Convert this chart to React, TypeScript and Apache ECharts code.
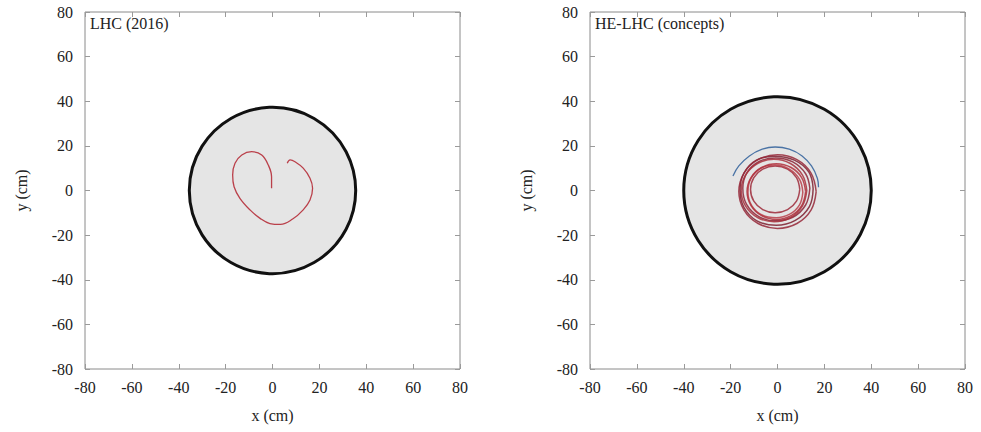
import React, { useEffect, useRef } from "react";
import * as echarts from "echarts";

const axisTicks = [-80, -60, -40, -20, 0, 20, 40, 60, 80];
const panelTitles = ["LHC (2016)", "HE-LHC (concepts)"];
// [centerX, centerY, radius] of the aperture disc (cm)
const discLHC = [[0, 0, 35.5]];
const discHE = [[0, 0, 40]];

// LHC trajectory (cm)
const lhcTrack = [
  [-0.4, 1.0], [-0.4, 6.2], [-1.8, 11.4], [-4.6, 15.9], [-8.9, 17.4], [-13.1, 15.9],
  [-16, 12.2], [-17, 6.9], [-16.4, 1.7], [-13.9, -3.5], [-9.6, -8.7], [-5.3, -12.5],
  [-1.1, -14.8], [3.4, -15.2], [8.6, -12.8], [13.1, -8.7], [16, -4.3], [17.1, 1],
  [16, 5.5], [13.1, 10], [9.6, 12.9], [7.5, 13.7], [6.3, 12.2],
];

// HE-LHC trajectories (cm)
const heLoopA = [
  [9.5, 0.5], [8.1, 5.8], [4.3, 9.6], [-1, 11], [-6.3, 9.6], [-10.1, 5.8], [-11.5, 0.5],
  [-10.1, -4.8], [-6.3, -8.6], [-1, -10], [4.3, -8.6], [8.1, -4.8], [9.5, 0.5],
];
const heLoopB = [
  [12, -0.5], [10.3, 5.8], [5.8, 10.3], [-0.5, 12], [-6.8, 10.3], [-11.3, 5.8], [-13, -0.5],
  [-11.3, -6.8], [-6.8, -11.3], [-0.5, -13], [5.8, -11.3], [10.3, -6.8], [12, -0.5],
];
const heLoopC = [
  [12.5, 0], [10.6, 7], [5.5, 12.1], [-1.5, 14], [-8.5, 12.1], [-13.6, 7], [-15.5, 0],
  [-13.6, -7], [-8.5, -12.1], [-1.5, -14], [5.5, -12.1], [10.6, -7], [12.5, 0],
];
const heLoopD = [
  [16.5, -0.5], [14.3, 7.8], [8.3, 13.8], [0, 16], [-8.3, 13.8], [-14.3, 7.8], [-16.5, -0.5],
  [-14.3, -8.8], [-8.3, -14.8], [0, -17], [8.3, -14.8], [14.3, -8.8], [16.5, -0.5],
];
const heLoopE = [
  [13.8, 1], [12, 7.5], [6.5, 12.8], [-0.8, 14.6], [-7.8, 13], [-13, 8], [-14.8, 1],
  [-13.2, -6.2], [-7.8, -11.8], [-0.8, -13.6], [6.5, -12], [12, -6.5], [13.8, 1],
];
const heLoopF = [
  [10.8, -0.8], [9.4, 5], [5, 9.6], [-1.2, 11.4], [-7, 10], [-11.4, 5.2], [-12.6, -0.8],
  [-11, -6.8], [-6.6, -11], [-0.6, -12.2], [5.2, -10.6], [9.4, -6.4], [10.8, -0.8],
];
const heLoopG = [
  [15.2, 0.8], [13.4, 8.2], [7.2, 13.6], [-1.4, 15.4], [-9, 13.6], [-14.2, 8], [-16, 0.4],
  [-14.4, -7.4], [-8.8, -13.6], [-0.6, -15.6], [7.6, -13.4], [13.6, -7.2], [15.2, 0.8],
];
const heBlueArc = [
  [-19, 6.5], [-16.5, 11], [-12, 15.5], [-6.5, 18.5], [-1, 19.5], [5, 18.5], [10.5, 15.5],
  [14.5, 11], [17, 5.5], [17.5, 1.5],
];

const FONT = "'Liberation Serif', 'DejaVu Serif', serif";

function makeAxes(gridIndex: number) {
  const common = {
    gridIndex,
    min: -80,
    max: 80,
    interval: 20,
    splitLine: { show: false },
    axisLine: { show: false, onZero: false },
    axisTick: { show: true, inside: true, length: 5, lineStyle: { color: "#9a9a9a" } },
  };
  const xAxes = [
    {
      ...common,
      type: "value",
      position: "bottom",
      name: "x (cm)",
      nameLocation: "middle",
      nameGap: 38,
      nameTextStyle: { fontFamily: FONT, fontSize: 16, color: "#222" },
      axisLabel: {
        fontFamily: FONT,
        fontSize: 16,
        color: "#222",
        margin: 10,
        formatter: (v: number) => (axisTicks.includes(v) ? String(v) : ""),
      },
    },
    { ...common, type: "value", position: "top", axisLabel: { show: false } },
  ];
  const yAxes = [
    {
      ...common,
      type: "value",
      position: "left",
      name: "y (cm)",
      nameLocation: "middle",
      nameGap: 56,
      nameTextStyle: { fontFamily: FONT, fontSize: 16, color: "#222" },
      axisLabel: { fontFamily: FONT, fontSize: 16, color: "#222", margin: 12 },
    },
    { ...common, type: "value", position: "right", axisLabel: { show: false } },
  ];
  return { xAxes, yAxes };
}

function discSeries(data: number[][], xAxisIndex: number, yAxisIndex: number) {
  return {
    type: "custom",
    xAxisIndex,
    yAxisIndex,
    z: 1,
    data,
    renderItem: (_params: any, api: any) => {
      const c = api.coord([api.value(0), api.value(1)]);
      const r = api.size([api.value(2), 0])[0];
      return {
        type: "circle",
        shape: { cx: c[0], cy: c[1], r },
        style: { fill: "#e5e5e5", stroke: "#111", lineWidth: 3 },
      };
    },
  };
}

function trackSeries(data: number[][], xAxisIndex: number, yAxisIndex: number, color: string, width = 1.3) {
  return {
    type: "line",
    xAxisIndex,
    yAxisIndex,
    z: 3,
    data,
    smooth: 0.4,
    showSymbol: false,
    symbol: "none",
    lineStyle: { color, width, opacity: 0.85 },
  };
}

export default function App() {
  const ref = useRef<HTMLDivElement>(null);
  useEffect(() => {
    if (!ref.current) return;
    const chart = echarts.init(ref.current, null, { renderer: "svg" });
    const a0 = makeAxes(0);
    const a1 = makeAxes(1);
    chart.setOption({
      animation: false,
      backgroundColor: "#ffffff",
      grid: [
        { left: 85, top: 12, width: 375, height: 357, show: true, borderColor: "#8a8a8a", borderWidth: 1, backgroundColor: "transparent" },
        { left: 590, top: 12, width: 375, height: 357, show: true, borderColor: "#8a8a8a", borderWidth: 1, backgroundColor: "transparent" },
      ],
      xAxis: [...a0.xAxes, ...a1.xAxes],
      yAxis: [...a0.yAxes, ...a1.yAxes],
      graphic: [
        { type: "text", left: 90, top: 15, style: { text: panelTitles[0], font: `16px ${FONT}`, fill: "#222" } },
        { type: "text", left: 595, top: 15, style: { text: panelTitles[1], font: `16px ${FONT}`, fill: "#222" } },
      ],
      series: [
        discSeries(discLHC, 0, 0),
        trackSeries(lhcTrack, 0, 0, "#b3232f"),
        discSeries(discHE, 2, 2),
        trackSeries(heBlueArc, 2, 2, "#2f5f9a", 1.3),
        trackSeries(heLoopA, 2, 2, "#9e2a3a", 1.5),
        trackSeries(heLoopF, 2, 2, "#b8404a", 1.5),
        trackSeries(heLoopB, 2, 2, "#b0303c", 1.5),
        trackSeries(heLoopE, 2, 2, "#8c2436", 1.5),
        trackSeries(heLoopC, 2, 2, "#a8323d", 1.5),
        trackSeries(heLoopG, 2, 2, "#7e2030", 1.5),
        trackSeries(heLoopD, 2, 2, "#962838", 1.5),
      ],
    });
    return () => chart.dispose();
  }, []);
  return <div ref={ref} style={{ width: 981, height: 432, position: "absolute", left: 0, top: 0 }} />;
}
